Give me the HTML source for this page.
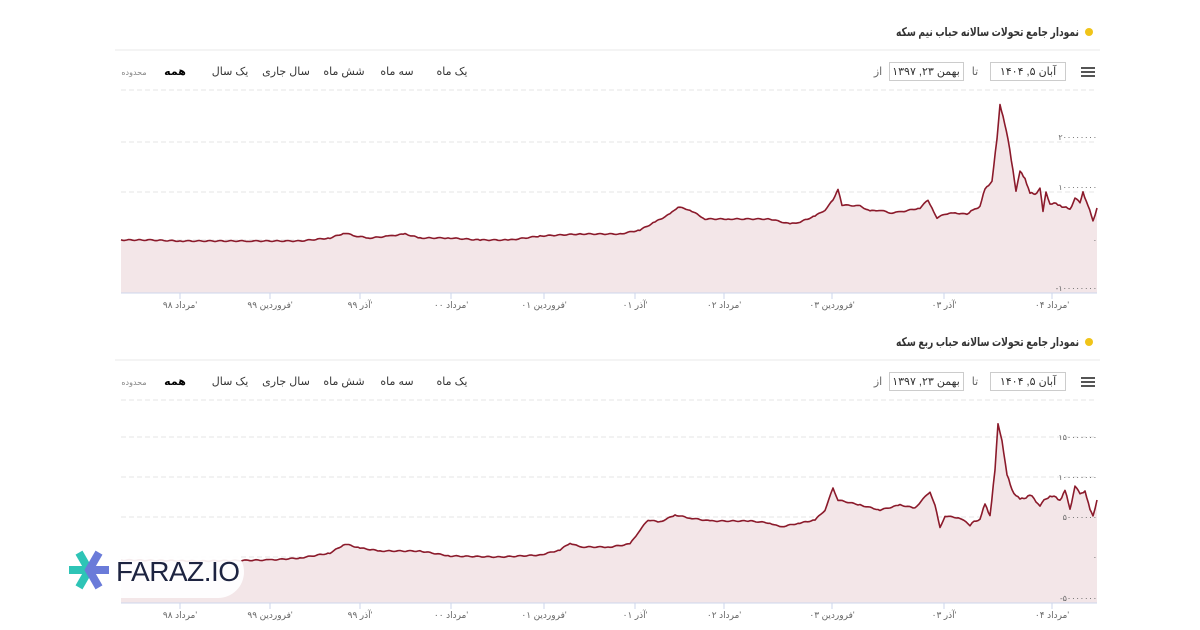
<!DOCTYPE html>
<html><head><meta charset="utf-8">
<style>
html,body{margin:0;padding:0;background:#fff;width:1200px;height:630px;overflow:hidden}
svg{display:block}
text{font-family:"Liberation Sans","DejaVu Sans",sans-serif}
</style></head><body>
<svg id="s" width="1200" height="630" xmlns="http://www.w3.org/2000/svg"></svg>
<script>
const s=document.getElementById('s');let h='';
const p1=[[121,240],[150,240],[180,241],[250,241],[300,241],[330,238],[345,233],[355,236],[370,238],[390,236],[405,234],[420,238],[450,238],[480,240],[510,240],[540,236],[580,234],[620,234],[640,230],[655,222],[670,214],[678,207],[690,210],[705,219],[730,219],[770,219],[790,224],[800,222],[815,216],[825,210],[833,200],[838,189],[842,205],[860,206],[870,211],[880,210],[890,213],[900,212],[920,208],[928,200],[932,208],[937,218],[945,214],[955,213],[965,214],[975,210],[980,205],[985,190],[992,180],[997,140],[1000,105],[1003,115],[1008,140],[1013,170],[1016,190],[1020,172],[1025,178],[1030,193],[1035,195],[1040,187],[1043,212],[1046,193],[1050,203],[1060,205],[1070,210],[1075,197],[1080,204],[1083,192],[1088,205],[1093,222],[1097,208]];
const p2=[[121,560],[200,561],[270,560],[300,558],[330,553],[345,544],[360,548],[380,551],[420,551],[450,556],[500,557],[540,555],[560,550],[570,543],[580,547],[610,547],[630,544],[640,530],[648,520],[660,522],[675,515],[690,518],[710,521],[750,521],[770,523],[780,527],[800,523],[815,520],[825,510],[833,488],[838,500],[860,505],[880,510],[900,505],[915,508],[925,497],[930,492],[935,505],[940,528],[945,516],[960,518],[970,525],[980,518],[985,505],[990,515],[995,470],[998,425],[1002,440],[1007,475],[1012,490],[1020,500],[1030,495],[1040,505],[1050,495],[1060,500],[1065,490],[1070,510],[1075,485],[1080,495],[1085,490],[1090,510],[1093,517],[1097,500]];
function jit(p){let o=[];for(let i=0;i<p.length-1;i++){const[a,b]=p[i],[c,d]=p[i+1];const n=Math.max(1,Math.round((c-a)/2));for(let k=0;k<n;k++){const t=k/n;const j=(a>960)?(Math.sin(a*13.1+k*7.7)*1.2):(Math.sin(a*3.3+k*5.1)*0.5);o.push([a+(c-a)*t,b+(d-b)*t+j]);}}o.push(p[p.length-1]);return o;}
const xl=[[180,'مرداد ۹۸\''],[270,'فروردین ۹۹\''],[360,'آذر ۹۹\''],[451,'مرداد ۰۰\''],[544,'فروردین ۰۱\''],[635,'آذر ۰۱\''],[724,'مرداد ۰۲\''],[832,'فروردین ۰۳\''],[944,'آذر ۰۳\''],[1052,'مرداد ۰۴\'']];
function chart(o,title,pts,grids,ylab,bottom){
 h+=`<circle cx="1089" cy="${32+o}" r="4" fill="#f0c419"/>`;
 h+=`<text x="1079" y="${36+o}" text-anchor="end" font-size="12" font-weight="bold" fill="#333" textLength="183" lengthAdjust="spacingAndGlyphs">${title}</text>`;
 h+=`<line x1="115" y1="${50+o}" x2="1100" y2="${50+o}" stroke="#e8e8e8"/>`;
 for(let i=0;i<3;i++)h+=`<rect x="1081" y="${67+o+i*4}" width="14" height="2" fill="#555"/>`;
 h+=`<rect x="990.5" y="${62.5+o}" width="75" height="18" fill="#fff" stroke="#ccc"/><text x="1028" y="${75+o}" text-anchor="middle" font-size="11" fill="#333">آبان ۵, ۱۴۰۴</text>`;
 h+=`<text x="975" y="${75+o}" text-anchor="middle" font-size="11" fill="#666">تا</text>`;
 h+=`<rect x="889.5" y="${62.5+o}" width="74" height="18" fill="#fff" stroke="#ccc"/><text x="926" y="${75+o}" text-anchor="middle" font-size="11" fill="#333">بهمن ۲۳, ۱۳۹۷</text>`;
 h+=`<text x="878" y="${75+o}" text-anchor="middle" font-size="11" fill="#666">از</text>`;
 [[452,'یک ماه'],[397,'سه ماه'],[344,'شش ماه'],[286,'سال جاری'],[230,'یک سال']].forEach(([x,t])=>h+=`<text x="${x}" y="${75+o}" text-anchor="middle" font-size="11" fill="#333">${t}</text>`);
 h+=`<text x="175" y="${75+o}" text-anchor="middle" font-size="11" font-weight="bold" fill="#000">همه</text>`;
 h+=`<text x="134" y="${75+o}" text-anchor="middle" font-size="8" fill="#888">محدوده</text>`;
 grids.forEach(y=>h+=`<line x1="121" y1="${y}" x2="1097" y2="${y}" stroke="#e6e6e6" stroke-dasharray="5,3"/>`);
 const j=jit(pts);const d=j.map(q=>q[0].toFixed(1)+','+q[1].toFixed(1)).join(' ');
 h+=`<polygon points="121,${bottom} ${d} 1097,${bottom}" fill="#f3e6e8"/>`;
 ylab.forEach(([y,t])=>h+=`<text x="1097" y="${y}" text-anchor="end" font-size="8" fill="#666">${t}</text>`);
 h+=`<polyline points="${d}" fill="none" stroke="#8b1a2b" stroke-width="1.6" stroke-linejoin="round"/>`;
 h+=`<line x1="121" y1="${bottom}" x2="1097" y2="${bottom}" stroke="#ccd6eb"/>`;
 xl.forEach(([x,t])=>{h+=`<line x1="${x}" y1="${bottom}" x2="${x}" y2="${bottom+6}" stroke="#ccd6eb"/><text x="${x}" y="${bottom+15}" text-anchor="middle" font-size="9" fill="#666">${t}</text>`;});
}
chart(0,'نمودار جامع تحولات سالانه حباب نیم سکه',p1,[90,142,192,240],[[140,'۲۰۰۰۰۰۰۰۰'],[190,'۱۰۰۰۰۰۰۰۰'],[243,'۰'],[291,'-۱۰۰۰۰۰۰۰۰']],293);
chart(310,'نمودار جامع تحولات سالانه حباب ربع سکه',p2,[400,437,477,517,557],[[440,'۱۵۰۰۰۰۰۰۰'],[480,'۱۰۰۰۰۰۰۰۰'],[520,'۵۰۰۰۰۰۰۰'],[560,'۰'],[601,'-۵۰۰۰۰۰۰۰']],603);
h+=`<rect x="70" y="546" width="174" height="52" rx="26" fill="#fff" opacity="0.92"/>`;
h+=`<g transform="translate(89,570)"><rect x="-20" y="-4" width="22" height="8" fill="#2ec4b6"/><rect x="-4" y="-20" width="8" height="22" fill="#2ec4b6" transform="rotate(-30)"/><rect x="-4" y="-2" width="8" height="22" fill="#2ec4b6" transform="rotate(30)"/><rect x="-2" y="-4" width="22" height="8" fill="#6a7bd9"/><rect x="-4" y="-20" width="8" height="22" fill="#6a7bd9" transform="rotate(30)"/><rect x="-4" y="-2" width="8" height="22" fill="#6a7bd9" transform="rotate(-30)"/></g>`;
h+=`<text x="116" y="581" font-size="28" fill="#1d2340" letter-spacing="-0.5">FARAZ.IO</text>`;
s.innerHTML=h;
</script>
</body></html>
